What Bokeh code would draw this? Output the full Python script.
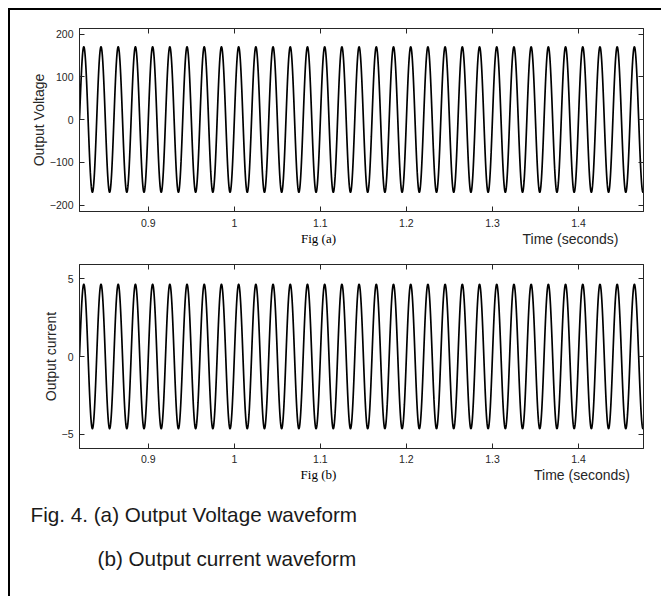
import numpy as np
from bokeh.plotting import figure
from bokeh.models import (Range1d, LinearAxis, FixedTicker, ColumnDataSource,
                          CustomLabelingPolicy, Title)
from bokeh.layouts import column
from bokeh.embed import file_html
from bokeh.resources import INLINE
from bokeh.core.properties import value

# ---- values ----
frequency_hz = 50.0            # 50 Hz sine (one period = 0.02 s)
voltage_peak = 170.0           # peak of output voltage (V)
current_peak = 4.65            # peak of output current (A)
time_window = [0.82, 1.4756]   # visible time axis (s)
x_ticks = [0.9, 1.0, 1.1, 1.2, 1.3, 1.4]
x_tick_labels = ["0.9", "1", "1.1", "1.2", "1.3", "1.4"]
voltage_ticks = [-200, -100, 0, 100, 200]
voltage_limits = [-215, 213]
current_ticks = [-5, 0, 5]
current_limits = [-5.93, 5.93]
sub_labels = ["Fig (a)", "Fig (b)"]
time_label = "Time (seconds)"
caption_lines = ["Fig. 4. (a)  Output Voltage waveform", "(b) Output current waveform"]

FONT = "Liberation Sans"
SERIF = "Liberation Serif"
AX = "#262626"

t = np.linspace(time_window[0], time_window[1], 8000)
phase = np.sin(2 * np.pi * frequency_hz * t)
src = ColumnDataSource(dict(t=t, v=voltage_peak * phase, i=current_peak * phase))

NO_LABELS = """
for (const i of indices) { indices.unset(i) }
return indices
"""


def panel(ycol, ylim, yticks, ylabel, top_border, bottom_border, height, standoff):
    p = figure(width=651, height=height, x_range=Range1d(*time_window), y_range=Range1d(*ylim),
               output_backend="svg", toolbar_location=None,
               min_border_left=69, min_border_right=18,
               min_border_top=top_border, min_border_bottom=bottom_border)
    p.grid.visible = False
    p.outline_line_color = AX
    p.border_fill_color = "white"
    p.line("t", ycol, source=src, line_color="black", line_width=1.7)

    xa = p.xaxis[0]
    xa.ticker = FixedTicker(ticks=x_ticks, minor_ticks=[])
    xa.major_label_overrides = {k: v for k, v in zip(x_ticks, x_tick_labels)}
    ya = p.yaxis[0]
    ya.ticker = FixedTicker(ticks=yticks, minor_ticks=[])
    ya.axis_label = ylabel
    for ax in (xa, ya):
        ax.major_tick_in = 5
        ax.major_tick_out = 0
        ax.minor_tick_in = 0
        ax.minor_tick_out = 0
        ax.axis_line_color = AX
        ax.major_tick_line_color = AX
        ax.major_label_text_font = FONT
        ax.major_label_text_font_size = "10.5px"
        ax.major_label_text_color = AX
    xa.major_label_standoff = standoff
    ya.major_label_standoff = 6
    ya.axis_label_text_font = FONT
    ya.axis_label_text_font_size = "14px"
    ya.axis_label_text_font_style = "normal"
    ya.axis_label_text_color = AX
    ya.axis_label_standoff = 0

    for ticks, side in ((x_ticks, "above"), (yticks, "right")):
        ax = LinearAxis(ticker=FixedTicker(ticks=ticks, minor_ticks=[]),
                        major_label_text_font_size="0px", major_label_standoff=0,
                        major_label_policy=CustomLabelingPolicy(code=NO_LABELS),
                        major_tick_in=5, major_tick_out=0, minor_tick_in=0, minor_tick_out=0,
                        axis_line_color=AX, major_tick_line_color=AX)
        p.add_layout(ax, side)
    return p


def strip(height, frame_h, fig_label, fig_x, time_x, fig_y, time_y):
    s = figure(width=651, height=height, x_range=Range1d(*time_window), y_range=Range1d(frame_h, 0),
               output_backend="svg", toolbar_location=None, x_axis_type=None, y_axis_type=None,
               min_border_left=69, min_border_right=18, min_border_top=0,
               min_border_bottom=height - frame_h)
    s.grid.visible = False
    s.outline_line_color = None
    s.border_fill_color = "white"
    s.text(x=[fig_x], y=[fig_y], text=[fig_label], text_font=value(SERIF), text_font_size="13px",
           text_align="center", text_baseline="middle", text_color="black")
    s.text(x=[time_x], y=[time_y], text=[time_label], text_font=value(FONT), text_font_size="14px",
           text_align="center", text_baseline="middle", text_color=AX)
    return s


p1 = panel("v", voltage_limits, voltage_ticks, "Output Voltage", 18, 20, 221, 7)
s1 = strip(25, 25, sub_labels[0], 1.0978, 1.3907, 7, 7)
p2 = panel("i", current_limits, current_ticks, "Output current", 8, 18, 210, 6)
s2 = strip(130, 24, sub_labels[1], 1.0978, 1.4041, 7.5, 8)

cap1 = Title(text=caption_lines[0], align="left", offset=-49, standoff=21,
             text_font=FONT, text_font_size="20.7px", text_font_style="normal", text_color="#1a1a1a")
cap2 = Title(text=caption_lines[1], align="left", offset=18, standoff=16,
             text_font=FONT, text_font_size="20.7px", text_font_style="normal", text_color="#1a1a1a")
s2.add_layout(cap1, "below")
s2.add_layout(cap2, "below")

layout = column(p1, s1, p2, s2, styles={"border-top": "2px solid black", "border-left": "2px solid black",
                                        "margin-left": "8px", "margin-top": "8px"})

open("out.html", "w").write(file_html(layout, INLINE))
